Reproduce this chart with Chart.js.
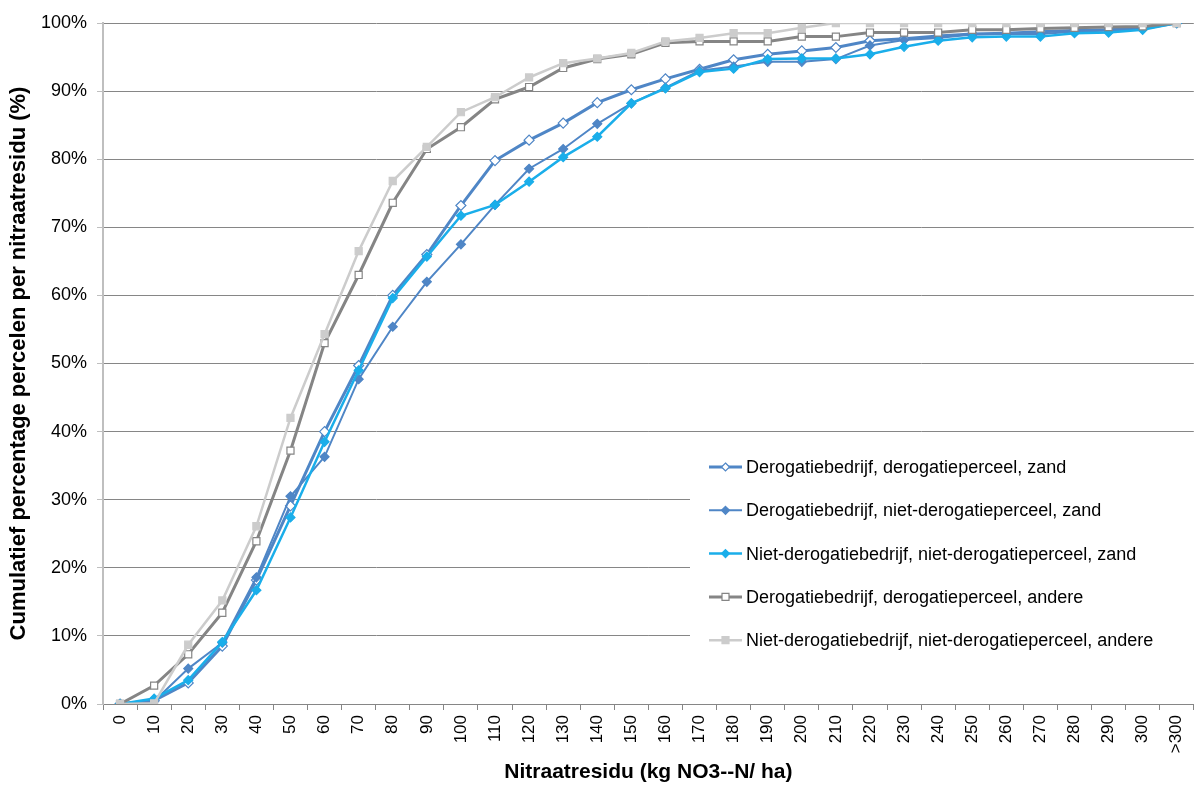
<!DOCTYPE html>
<html>
<head>
<meta charset="utf-8">
<script src="https://cdn.jsdelivr.net/npm/chart.js@4.4.1/dist/chart.umd.min.js"></script>
<style>
  html, body { margin: 0; padding: 0; background: #fff; }
  #wrap { width: 1200px; height: 788px; position: relative; }
</style>
</head>
<body>
<div id="wrap"><canvas id="cumChart" width="1200" height="788"></canvas></div>
<script>
// ── Cumulatieve verdeling nitraatresidu per perceelsgroep ─────────────────

const classes = ["0", "10", "20", "30", "40", "50", "60", "70", "80", "90", "100",
  "110", "120", "130", "140", "150", "160", "170", "180", "190", "200", "210",
  "220", "230", "240", "250", "260", "270", "280", "290", "300", ">300"];

const derogDerogZand = [0, 0.5, 3.1, 8.5, 18.2, 29.1, 40.0, 49.7, 60.0, 66.0, 73.2,
  79.8, 82.8, 85.3, 88.3, 90.2, 91.8, 93.2, 94.6, 95.4, 95.9, 96.4,
  97.4, 97.7, 98.1, 98.4, 98.5, 98.7, 98.9, 99.0, 99.2, 100];

const derogNietDerogZand = [0, 0.4, 5.2, 9.0, 18.6, 30.5, 36.3, 47.7, 55.4, 62.0, 67.5,
  73.3, 78.6, 81.5, 85.2, 88.2, 90.5, 93.0, 93.6, 94.3, 94.3, 94.7,
  96.7, 97.5, 97.8, 98.3, 98.4, 98.4, 98.7, 98.9, 99.2, 100];

const nietDerogNietDerogZand = [0, 0.8, 3.5, 9.1, 16.7, 27.4, 38.5, 49.0, 59.6, 65.7, 71.7,
  73.3, 76.7, 80.3, 83.3, 88.2, 90.4, 92.8, 93.3, 94.7, 94.8, 94.8,
  95.4, 96.5, 97.4, 97.9, 98.0, 98.0, 98.5, 98.6, 99.0, 100];

const derogDerogAndere = [0, 2.7, 7.3, 13.4, 23.9, 37.2, 53.0, 63.0, 73.6, 81.5, 84.7,
  88.8, 90.6, 93.4, 94.7, 95.4, 97.1, 97.3, 97.3, 97.3, 98.0, 98.0,
  98.6, 98.6, 98.6, 99.0, 99.0, 99.2, 99.3, 99.4, 99.5, 100];

const nietDerogNietDerogAndere = [0, 0.1, 8.7, 15.2, 26.1, 42.0, 54.3, 66.5, 76.8, 81.8, 86.9,
  89.1, 92.0, 94.1, 94.8, 95.6, 97.3, 97.8, 98.5, 98.5, 99.3, 100,
  100, 100, 100, 100, 100, 100, 100, 100, 100, 100];

const yTicks = [0, 10, 20, 30, 40, 50, 60, 70, 80, 90, 100];

const series = [
  { label: "Derogatiebedrijf, derogatieperceel, zand", data: derogDerogZand,
    color: "#4f86c6", fill: "#ffffff", style: "rectRot", radius: 5, width: 3 },
  { label: "Derogatiebedrijf, niet-derogatieperceel, zand", data: derogNietDerogZand,
    color: "#4f86c6", fill: "#4f86c6", style: "rectRot", radius: 4.5, width: 2 },
  { label: "Niet-derogatiebedrijf, niet-derogatieperceel, zand", data: nietDerogNietDerogZand,
    color: "#1aaeea", fill: "#1aaeea", style: "rectRot", radius: 4.5, width: 2.5 },
  { label: "Derogatiebedrijf, derogatieperceel, andere", data: derogDerogAndere,
    color: "#858585", fill: "#ffffff", style: "rect", radius: 5, width: 3 },
  { label: "Niet-derogatiebedrijf, niet-derogatieperceel, andere", data: nietDerogNietDerogAndere,
    color: "#cccccc", fill: "#cccccc", style: "rect", radius: 5, width: 2.5 },
];

const FONT = "'Liberation Sans', Arial, sans-serif";

const datasets = series.map((s, i) => ({
  label: s.label,
  data: s.data,
  borderColor: s.color,
  backgroundColor: s.fill,
  pointBackgroundColor: s.fill,
  pointBorderColor: s.color,
  pointBorderWidth: 1.2,
  pointStyle: s.style,
  pointRadius: s.radius,
  borderWidth: s.width,
  tension: 0,
  order: series.length - i,
}));

// legend box inside the plot area, drawn on the canvas
const legendBox = {
  id: "legendBox",
  afterDatasetsDraw(chart) {
    const { ctx } = chart;
    const x0 = 690, y0 = 446, w = 505, h = 232;
    ctx.save();
    ctx.fillStyle = "#ffffff";
    ctx.fillRect(x0, y0, w, h);
    series.forEach((s, i) => {
      const y = 467 + i * 43.3;
      ctx.strokeStyle = s.color;
      ctx.lineWidth = s.width;
      ctx.beginPath();
      ctx.moveTo(709, y);
      ctx.lineTo(742, y);
      ctx.stroke();
      ctx.fillStyle = s.fill;
      ctx.strokeStyle = s.color;
      ctx.lineWidth = 1.2;
      const r = 4;
      ctx.beginPath();
      if (s.style === "rectRot") {
        ctx.moveTo(725.5, y - r); ctx.lineTo(725.5 + r, y);
        ctx.lineTo(725.5, y + r); ctx.lineTo(725.5 - r, y);
        ctx.closePath();
      } else {
        ctx.rect(725.5 - 3.5, y - 3.5, 7, 7);
      }
      ctx.fill();
      ctx.stroke();
      ctx.fillStyle = "#000000";
      ctx.font = "18px " + FONT;
      ctx.textBaseline = "middle";
      ctx.textAlign = "left";
      ctx.fillText(s.label, 746, y + 1);
    });
    ctx.restore();
  },
};

new Chart(document.getElementById("cumChart").getContext("2d"), {
  type: "line",
  data: { labels: classes, datasets },
  plugins: [legendBox],
  options: {
    responsive: false,
    animation: false,
    layout: { padding: { left: 0, top: 23, right: 0, bottom: 0 } },
    plugins: {
      legend: { display: false },
      tooltip: { enabled: false },
    },
    scales: {
      x: {
        offset: true,
        grid: {
          offset: true,
          drawOnChartArea: false,
          drawTicks: true,
          tickLength: 6,
          color: "#868686",
        },
        border: { color: "#868686", width: 1 },
        ticks: {
          color: "#000",
          font: { family: FONT, size: 17 },
          maxRotation: 90,
          minRotation: 90,
          autoSkip: false,
          padding: 5,
        },
        title: {
          display: true,
          text: "Nitraatresidu (kg NO3--N/ ha)",
          color: "#000",
          font: { family: FONT, size: 21, weight: "bold" },
          padding: { top: 0, bottom: 3 },
        },
        afterFit: (scale) => {
          scale.height = 84;
          scale.paddingLeft = 0;
          scale.paddingRight = 0;
        },
      },
      y: {
        min: 0,
        max: 100,
        afterBuildTicks: (scale) => { scale.ticks = yTicks.map((v) => ({ value: v })); },
        grid: {
          color: "#868686",
          tickLength: 6,
          tickColor: "#bfbfbf",
        },
        border: { color: "#bfbfbf", width: 2 },
        ticks: {
          color: "#000",
          font: { family: FONT, size: 18 },
          padding: 10,
          callback: (v) => v + "%",
        },
        title: {
          display: true,
          text: "Cumulatief percentage percelen per nitraatresidu (%)",
          color: "#000",
          font: { family: FONT, size: 22, weight: "bold" },
          padding: { top: 6, bottom: 4 },
        },
        afterFit: (scale) => { scale.width = 103; },
      },
    },
  },
});
</script>
</body>
</html>
